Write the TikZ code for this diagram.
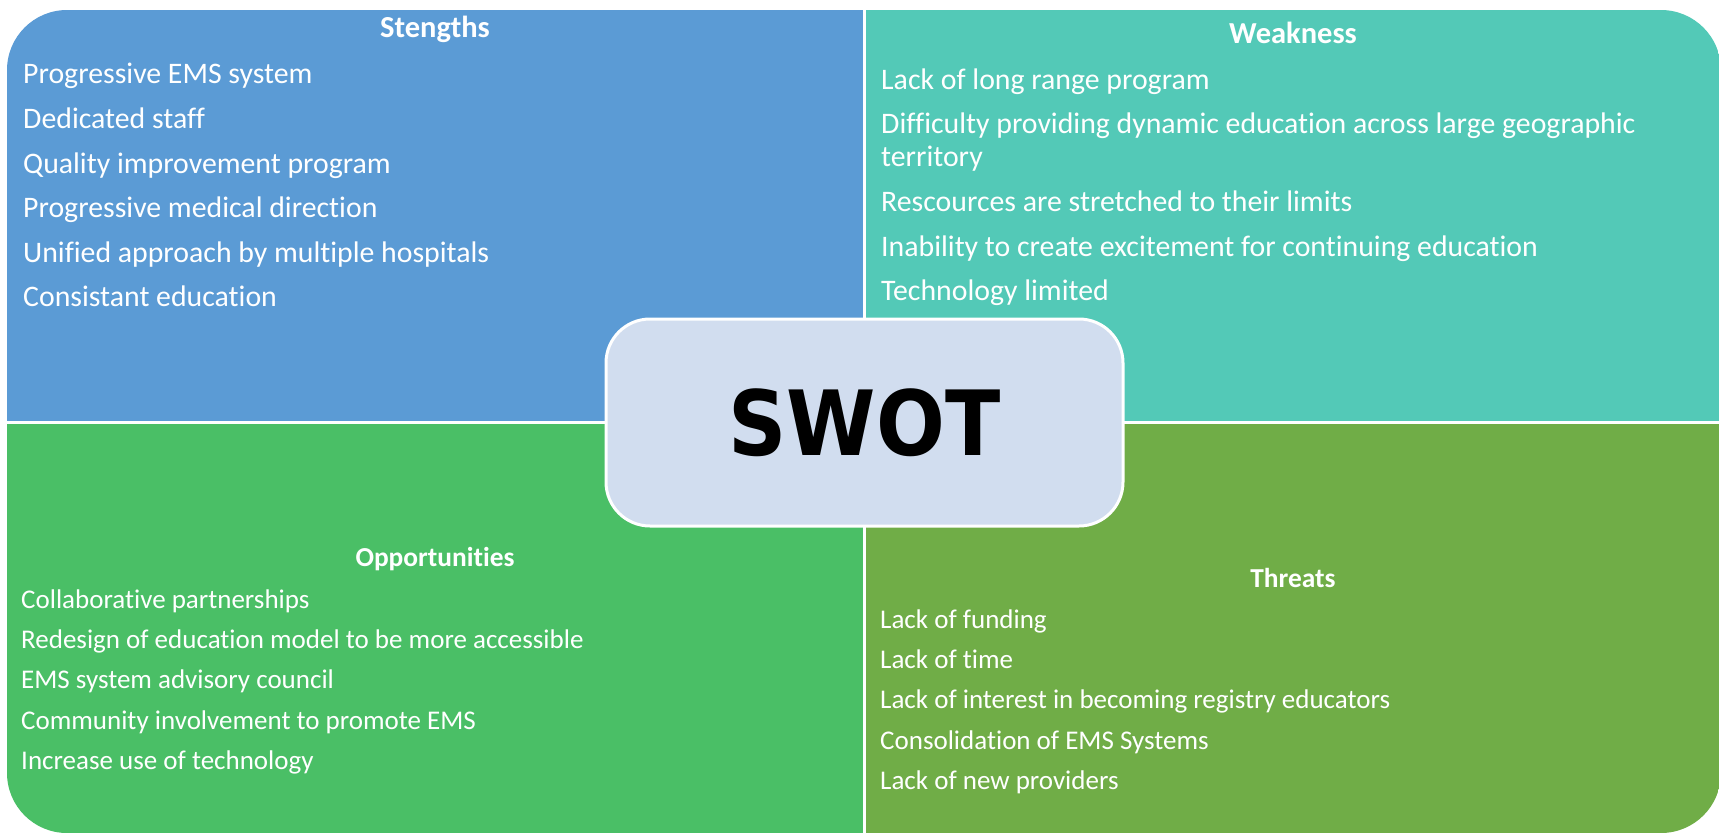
\documentclass[tikz,border=0pt]{standalone}
\usepackage{graphicx}
\usepackage{fontspec}
\setmainfont{Carlito}[Ligatures=NoCommon]
\newfontfamily\swotfont{DejaVu Sans}

\definecolor{strengthblue}{HTML}{5B9BD5}
\definecolor{weaknessteal}{HTML}{53C9B7}
\definecolor{opportgreen}{HTML}{4ABF66}
\definecolor{threatgreen}{HTML}{70AD47}
\definecolor{swotfill}{HTML}{D1DDEF}

\begin{document}
\begin{tikzpicture}[x=1pt,y=-1pt,
  bigtitle/.style={text=white,inner sep=0pt,anchor=base,
    font=\fontsize{30.5}{34}\selectfont\bfseries},
  smalltitle/.style={text=white,inner sep=0pt,anchor=base,
    font=\fontsize{27.4}{31}\selectfont\bfseries},
  bigitem/.style={text=white,inner sep=0pt,anchor=base west,
    font=\fontsize{29.8}{34}\selectfont},
  smallitem/.style={text=white,inner sep=0pt,anchor=base west,
    font=\fontsize{27}{31}\selectfont},
  divider/.style={white,line width=3pt}]
\useasboundingbox (0,0) rectangle (1719,833);

% four quadrants inside one rounded outline
\begin{scope}
  \clip[rounded corners=60pt] (7,10) rectangle (1721,833);
  \fill[strengthblue] (7,10) rectangle (864,422);
  \fill[weaknessteal] (864,10) rectangle (1721,422);
  \fill[opportgreen] (7,422) rectangle (864,833);
  \fill[threatgreen] (864,422) rectangle (1721,833);
\end{scope}
\coordinate (vtop) at (864,10);
\coordinate (vbot) at (864,833);
\coordinate (hleft) at (7,422);
\coordinate (hright) at (1721,422);
\draw[divider] (vtop) -- (vbot);
\draw[divider] (hleft) -- (hright);

% Strengths
\node[bigtitle] (stitle) at (435,37) {Stengths};
\node[bigitem] (s1) at (23,83)  {Progressive EMS system};
\node[bigitem] (s2) at (23,128) {Dedicated staff};
\node[bigitem] (s3) at (23,173) {Quality improvement program};
\node[bigitem] (s4) at (23,217) {Progressive medical direction};
\node[bigitem] (s5) at (23,262) {Unified approach by multiple hospitals};
\node[bigitem] (s6) at (23,306) {Consistant education};

% Weakness
\node[bigtitle] (wtitle) at (1293,43) {Weakness};
\node[bigitem] (w1)  at (881,89)  {Lack of long range program};
\node[bigitem] (w2)  at (881,133) {Difficulty providing dynamic education across large geographic};
\node[bigitem] (w2b) at (881,166) {territory};
\node[bigitem] (w3)  at (881,211) {Rescources are stretched to their limits};
\node[bigitem] (w4)  at (881,256) {Inability to create excitement for continuing education};
\node[bigitem] (w5)  at (881,300) {Technology limited};

% Opportunities
\node[smalltitle] (otitle) at (435,566) {Opportunities};
\node[smallitem] (o1) at (21,608) {Collaborative partnerships};
\node[smallitem] (o2) at (21,648) {Redesign of education model to be more accessible};
\node[smallitem] (o3) at (21,688) {EMS system advisory council};
\node[smallitem] (o4) at (21,729) {Community involvement to promote EMS};
\node[smallitem] (o5) at (21,769) {Increase use of technology};

% Threats
\node[smalltitle] (ttitle) at (1293,587) {Threats};
\node[smallitem] (t1) at (880,628) {Lack of funding};
\node[smallitem] (t2) at (880,668) {Lack of time};
\node[smallitem] (t3) at (880,708) {Lack of interest in becoming registry educators};
\node[smallitem] (t4) at (880,749) {Consolidation of EMS Systems};
\node[smallitem] (t5) at (880,789) {Lack of new providers};

% central label
\node[draw=white,line width=3pt,fill=swotfill,rounded corners=44pt,
  minimum width=517pt,minimum height=207pt,inner sep=0pt]
  (swot) at (864.5,422.5)
  {\swotfont\fontsize{90}{100}\selectfont\bfseries\scalebox{0.9}[1]{SWOT}};
\end{tikzpicture}
\end{document}
